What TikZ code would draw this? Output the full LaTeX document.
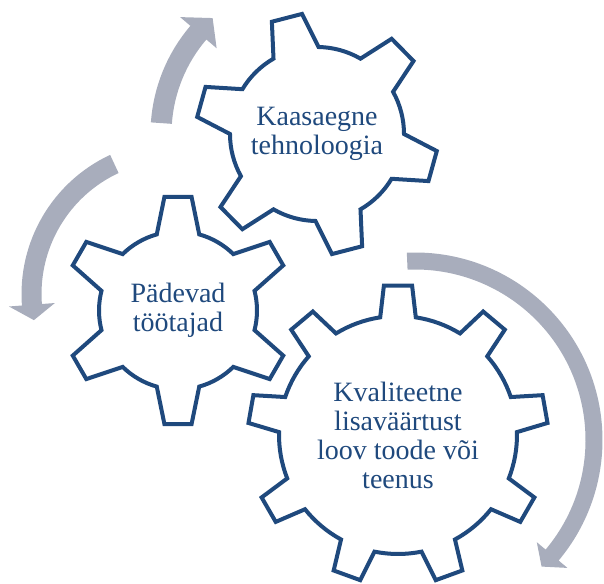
\documentclass[tikz,border=0pt]{standalone}
\usepackage{fontspec}
\setmainfont{Liberation Serif}
\usepackage{tikz}
\usetikzlibrary{calc}
\usepackage{xcolor}

\definecolor{gearblue}{RGB}{31,73,125}
\definecolor{arrowgray}{RGB}{168,173,188}

\tikzset{
  gearline/.style={draw=gearblue, line width=3pt, fill=white},
  gearlabel/.style={text=gearblue, align=center, font=\fontsize{21}{21.75}\selectfont},
  turnarrow/.style={fill=arrowgray}
}

% #1 centre, #2 teeth, #3 first tooth angle, #4 inner r, #5 outer r, #6 half base, #7 half tip
\newcommand{\drawgear}[7]{%
  \pgfmathsetmacro{\gpitch}{360/#2}
  \pgfmathtruncatemacro{\glast}{#2-1}
  \draw[gearline, shift={(#1)}] ({#3-#6}:#4)
    \foreach \k in {0,...,\glast}{
      -- ({#3+\k*\gpitch-#7}:#5) -- ({#3+\k*\gpitch+#7}:#5)
      -- ({#3+\k*\gpitch+#6}:#4)
      arc[start angle={#3+\k*\gpitch+#6}, end angle={#3+(\k+1)*\gpitch-#6}, radius=#4]
    } -- cycle;
}

% #1 centre, #2 mid r, #3 half shaft, #4 half head, #5 start, #6 head base, #7 tip
\newcommand{\turnarrow}[7]{%
  \fill[turnarrow, shift={(#1)}] ({#5}:{#2+#3})
    arc[start angle=#5, end angle=#6, radius={#2+#3}]
    -- ({#6}:{#2+#4}) -- ({#7}:{#2}) -- ({#6}:{#2-#4}) -- ({#6}:{#2-#3})
    arc[start angle=#6, end angle=#5, radius={#2-#3}] -- cycle;
}

\begin{document}
\begin{tikzpicture}[x=0.75pt, y=0.75pt]
  \useasboundingbox (0,0) rectangle (604,583);

  \coordinate (cTech) at (317,449);
  \coordinate (cStaff) at (178,272.5);
  \coordinate (cProduct) at (398,148);

  % arrows
  \turnarrow{cTech}{156}{10.5}{24}{176}{139.5}{132}
  \turnarrow{175,289}{143.5}{10}{23}{115}{184.3}{190.5}
  \turnarrow{415,143}{179}{8.5}{20}{92.5}{-40}{-45}

  % gears
  \drawgear{cTech}{6}{44.5}{87}{121}{15.5}{7.4}
  \drawgear{cStaff}{6}{90}{79}{114.5}{15.6}{6.8}
  \drawgear{cProduct}{9}{90}{119}{150}{8.6}{5.4}

  \node[gearlabel] (tech) at (cTech) {Kaasaegne\\tehnoloogia};
  \node[gearlabel] (staff) at (cStaff) {Pädevad\\töötajad};
  \node[gearlabel] (product) at (cProduct) {Kvaliteetne\\lisaväärtust\\loov toode või\\teenus};
\end{tikzpicture}
\end{document}
